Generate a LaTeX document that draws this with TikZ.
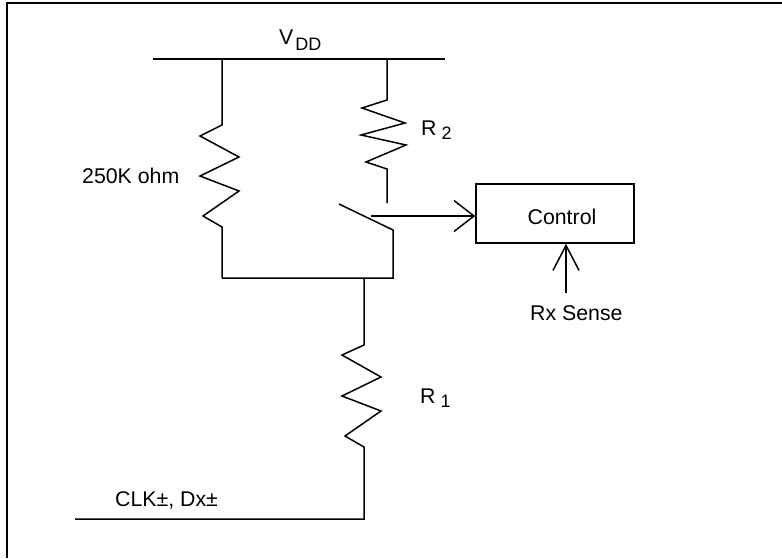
\documentclass[tikz,border=0pt]{standalone}
\usepackage{fontspec}
\setmainfont{Liberation Sans}
\usetikzlibrary{arrows.meta}
\newcommand{\subtxt}[2]{\raisebox{-#1pt}{\fontsize{18}{20}\selectfont #2}}
\tikzset{
  wire/.style={line width=1.5pt,line join=miter},
  txt/.style={inner sep=0pt,anchor=base west,font=\fontsize{21.3}{24}\selectfont},
  barb/.style 2 args={-{Straight Barb[length=#1,width=#2]}}
}
\begin{document}
\begin{tikzpicture}[x=1pt,y=-1pt]
      \useasboundingbox (0,0) rectangle (782,558);
      \draw[line width=2.2pt] (6.6,558) -- (6.6,3.2) -- (782,3.2);

      \coordinate (vddleft) at (153,59);
      \coordinate (vddright) at (445,59);
      \coordinate (r3top) at (222,59);
      \coordinate (r2top) at (387,59);
      \coordinate (r2end) at (387,203);
      \coordinate (swstart) at (339,204);
      \coordinate (swcorner) at (393,230);
      \coordinate (joinright) at (393,278);
      \coordinate (joinleft) at (222,278);
      \coordinate (r1top) at (364,278);
      \coordinate (r1corner) at (364,519);
      \coordinate (clkend) at (75,519);
      \coordinate (sensetail) at (371,216);
      \coordinate (rxtail) at (566,293);

      \node[draw,line width=1.5pt,inner sep=0pt,minimum width=158pt,minimum height=59pt](control) at (555,213.5){};
      \node[txt,anchor=center](controltxt) at (562,217){Control};
      \node[txt](rxsense) at (530,320){Rx Sense};
      \node[txt](r3label) at (82,183){250K ohm};
      \node[txt](r2label) at (421,135){R\hspace{5pt}\subtxt{4}{2}};
      \node[txt](r1label) at (420,403){R\hspace{5pt}\subtxt{4}{1}};
      \node[txt](vddlabel) at (279,44){V\hspace{2pt}\subtxt{6}{DD}};
      \node[txt](clklabel) at (115,506){CLK±, Dx±};

      \draw[wire] (vddleft) -- (vddright);
      \draw[wire] (r3top) -- (222,125) -- (200,136) -- (239,157) -- (200,176) -- (239,191) -- (203,216) -- (222,227) -- (joinleft);
      \draw[wire] (r2top) -- (387,100) -- (362,108) -- (405,123) -- (361,135) -- (406,145) -- (366,162) -- (387,169) -- (r2end);
      \draw[wire] (swstart) -- (swcorner) -- (joinright) -- (joinleft);
      \draw[wire] (r1top) -- (364,345) -- (342,355) -- (381,377) -- (342,396) -- (381,411) -- (345,436) -- (364,447) -- (r1corner) -- (clkend);
      \draw[wire,barb={20pt}{31pt}] (sensetail) -- (sensetail -| control.west);
      \draw[wire,barb={25pt}{26pt}] (rxtail) -- (rxtail |- control.south);
    \end{tikzpicture}
\end{document}
